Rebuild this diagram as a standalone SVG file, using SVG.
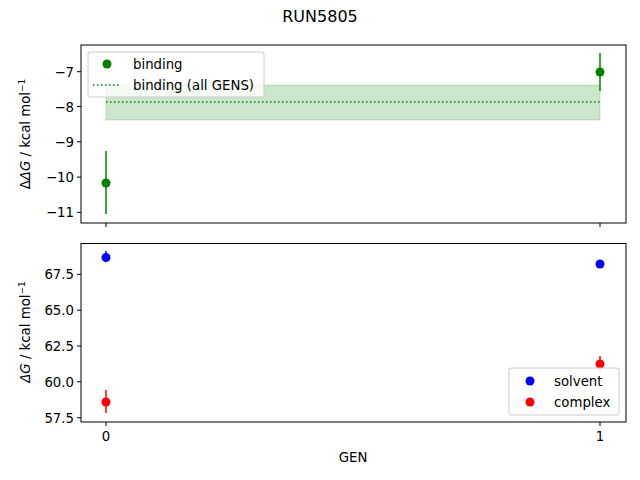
<svg xmlns="http://www.w3.org/2000/svg" width="640" height="480" viewBox="0 0 640 480">
<style>
text{font-family:"DejaVu Sans",sans-serif;font-size:13.3px;fill:#000}
.ax{fill:none;stroke:#000;stroke-width:1}
.tk{stroke:#000;stroke-width:1}
.yl{text-anchor:end}
.leg{fill:#fff;fill-opacity:.8;stroke:#ccc;stroke-width:1}
</style>
<rect width="640" height="480" fill="#fff"/>
<text x="320" y="22" text-anchor="middle" style="font-size:16px">RUN5805</text>
<g id="top">
<rect x="106" y="85" width="494" height="35" fill="#008000" fill-opacity="0.2" stroke="#008000" stroke-opacity="0.2"/>
<line x1="106" y1="102" x2="600" y2="102" stroke="#008000" stroke-width="1.5" stroke-dasharray="1.5,2.5"/>
<line x1="106" y1="151" x2="106" y2="214" stroke="#008000" stroke-width="1.5"/>
<circle cx="106" cy="183" r="4.5" fill="#008000"/>
<line x1="600" y1="53" x2="600" y2="91" stroke="#008000" stroke-width="1.5"/>
<circle cx="600" cy="72" r="4.5" fill="#008000"/>
<rect class="ax" x="81" y="45" width="545" height="178"/>
<g class="tk">
<line x1="77" y1="71.7" x2="81" y2="71.7"/><line x1="77" y1="106.5" x2="81" y2="106.5"/><line x1="77" y1="141.8" x2="81" y2="141.8"/><line x1="77" y1="177.1" x2="81" y2="177.1"/><line x1="77" y1="212.4" x2="81" y2="212.4"/>
<line x1="106" y1="223" x2="106" y2="227"/><line x1="600" y1="223" x2="600" y2="227"/>
</g>
<text class="yl" x="74" y="76.5">−7</text><text class="yl" x="74" y="111.5">−8</text><text class="yl" x="74" y="146.5">−9</text><text class="yl" x="74" y="182">−10</text><text class="yl" x="74" y="217">−11</text>
<text transform="translate(30,134) rotate(-90)" text-anchor="middle">Δ<tspan font-style="italic">ΔG</tspan> / kcal mol<tspan font-size="9" dy="-5">−1</tspan></text>
<rect class="leg" x="88" y="52" width="176" height="45" rx="2"/>
<circle cx="107" cy="64" r="4.5" fill="#008000"/>
<text x="133" y="69">binding</text>
<line x1="93" y1="85" x2="121" y2="85" stroke="#008000" stroke-width="1.5" stroke-dasharray="1.5,2.5"/>
<text x="133" y="90">binding (all GENS)</text>
</g>
<g id="bottom">
<line x1="106" y1="251" x2="106" y2="262" stroke="#0000ff" stroke-width="1.5"/>
<circle cx="106" cy="257.5" r="4.5" fill="#0000ff"/>
<line x1="106" y1="390" x2="106" y2="413" stroke="#ff0000" stroke-width="1.5"/>
<circle cx="106" cy="402" r="4.5" fill="#ff0000"/>
<line x1="600" y1="261" x2="600" y2="267" stroke="#0000ff" stroke-width="1.5"/>
<circle cx="600" cy="264" r="4.5" fill="#0000ff"/>
<line x1="600" y1="356" x2="600" y2="372" stroke="#ff0000" stroke-width="1.5"/>
<circle cx="600" cy="364" r="4.5" fill="#ff0000"/>
<rect class="ax" x="81" y="243.5" width="545" height="178.5"/>
<g class="tk">
<line x1="77" y1="274.3" x2="81" y2="274.3"/><line x1="77" y1="310.2" x2="81" y2="310.2"/><line x1="77" y1="346" x2="81" y2="346"/><line x1="77" y1="381.8" x2="81" y2="381.8"/><line x1="77" y1="417.7" x2="81" y2="417.7"/>
<line x1="106" y1="422" x2="106" y2="426"/><line x1="600" y1="422" x2="600" y2="426"/>
</g>
<text class="yl" x="74" y="279">67.5</text><text class="yl" x="74" y="315">65.0</text><text class="yl" x="74" y="351">62.5</text><text class="yl" x="74" y="386.5">60.0</text><text class="yl" x="74" y="422.5">57.5</text>
<text x="106" y="441" text-anchor="middle">0</text><text x="600" y="441" text-anchor="middle">1</text>
<text x="353" y="462" text-anchor="middle">GEN</text>
<text transform="translate(30,332) rotate(-90)" text-anchor="middle"><tspan font-style="italic">ΔG</tspan> / kcal mol<tspan font-size="9" dy="-5">−1</tspan></text>
<rect class="leg" x="509" y="368" width="110" height="47" rx="2"/>
<circle cx="530" cy="381" r="4.5" fill="#0000ff"/>
<text x="554" y="386">solvent</text>
<circle cx="530" cy="402" r="4.5" fill="#ff0000"/>
<text x="554" y="407">complex</text>
</g>
</svg>
